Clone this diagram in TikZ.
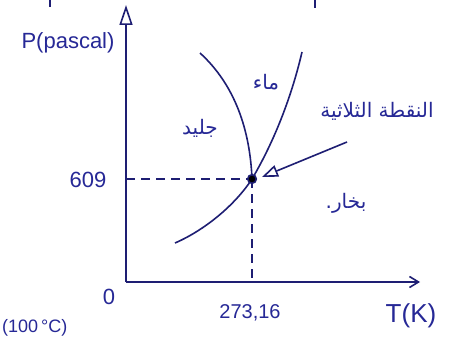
\documentclass[tikz,border=0pt]{standalone}
\usepackage{fontspec}
\usetikzlibrary{arrows.meta}
\setmainfont{Liberation Sans}
\newfontfamily\arabicfont[Script=Arabic]{DejaVu Sans}
\TeXXeTstate=1
\definecolor{ink}{RGB}{30,30,115}
\definecolor{pen}{RGB}{38,40,150}
\begin{document}
\begin{tikzpicture}[x=1pt,y=-1pt,
  ink/.style={draw=ink,line width=1.6pt},
  lbl/.style={text=pen,font=\fontsize{22}{26}\selectfont,inner sep=0pt},
  albl/.style={text=pen,font=\arabicfont\fontsize{20}{24}\selectfont,inner sep=0pt},
  guide/.style={draw=ink,line width=1.4pt,dash pattern=on 9pt off 6pt}]
\clip (0,0) rectangle (454,337);
\fill[white] (0,0) rectangle (454,337);
% axes
\coordinate (O) at (126,282);
\coordinate (ytop) at (126,5);
\coordinate (xend) at (420,282);
\draw[ink,-{Triangle[open,length=20pt,width=13pt]}] (O) -- (ytop);
\draw[ink,-{Straight Barb[length=9pt,width=11pt]}] (O) -- (xend);
% triple point and guides
\coordinate (tp) at (252,179);
\coordinate (ty) at (126,179);
\coordinate (tx) at (252,282);
\draw[guide] (ty) -- (tp);
\draw[guide] (tp) -- (tx);
% phase curves
\coordinate (melt) at (200,53);
\coordinate (vap) at (302,52);
\coordinate (sub) at (175,243);
\draw[ink] (tp) .. controls (250,130) and (235,85) .. (melt);
\draw[ink] (tp) .. controls (275,140) and (292,95) .. (vap);
\draw[ink] (tp) .. controls (235,205) and (205,230) .. (sub);
\fill[ink] (tp) circle (4.3pt);
% pointer arrow
\coordinate (ps) at (347,142);
\coordinate (pe) at (262,177);
\draw[ink,-{Triangle[open,length=16pt,width=12pt]}] (ps) -- (pe);
% labels
\node[lbl] (P) at (68,43) {P(pascal)};
\node[lbl] (v609) at (88,180) {609};
\node[lbl] (zero) at (109,297) {0};
\node[lbl,font=\fontsize{20}{24}\selectfont] (T0) at (250,313) {273,16};
\node[lbl,font=\fontsize{26}{30}\selectfont] (TK) at (411,316) {T(K)};
\node[lbl,font=\fontsize{18}{21}\selectfont,anchor=south west] (hundred) at (2,336) {(100\,°C)};
\node[albl] (water) at (266,82) {\beginR ماء\endR};
\node[albl] (ice) at (200,128) {\beginR جليد\endR};
\node[albl] (triple) at (377,111) {\beginR النقطة الثلاثية\endR};
\node[albl] (vapour) at (346,203) {\beginR بخار.\endR};
% cut-off strokes at top edge
\draw[ink] (50,0) -- (50,7);
\draw[ink] (315,0) -- (315,8);
\end{tikzpicture}
\end{document}
